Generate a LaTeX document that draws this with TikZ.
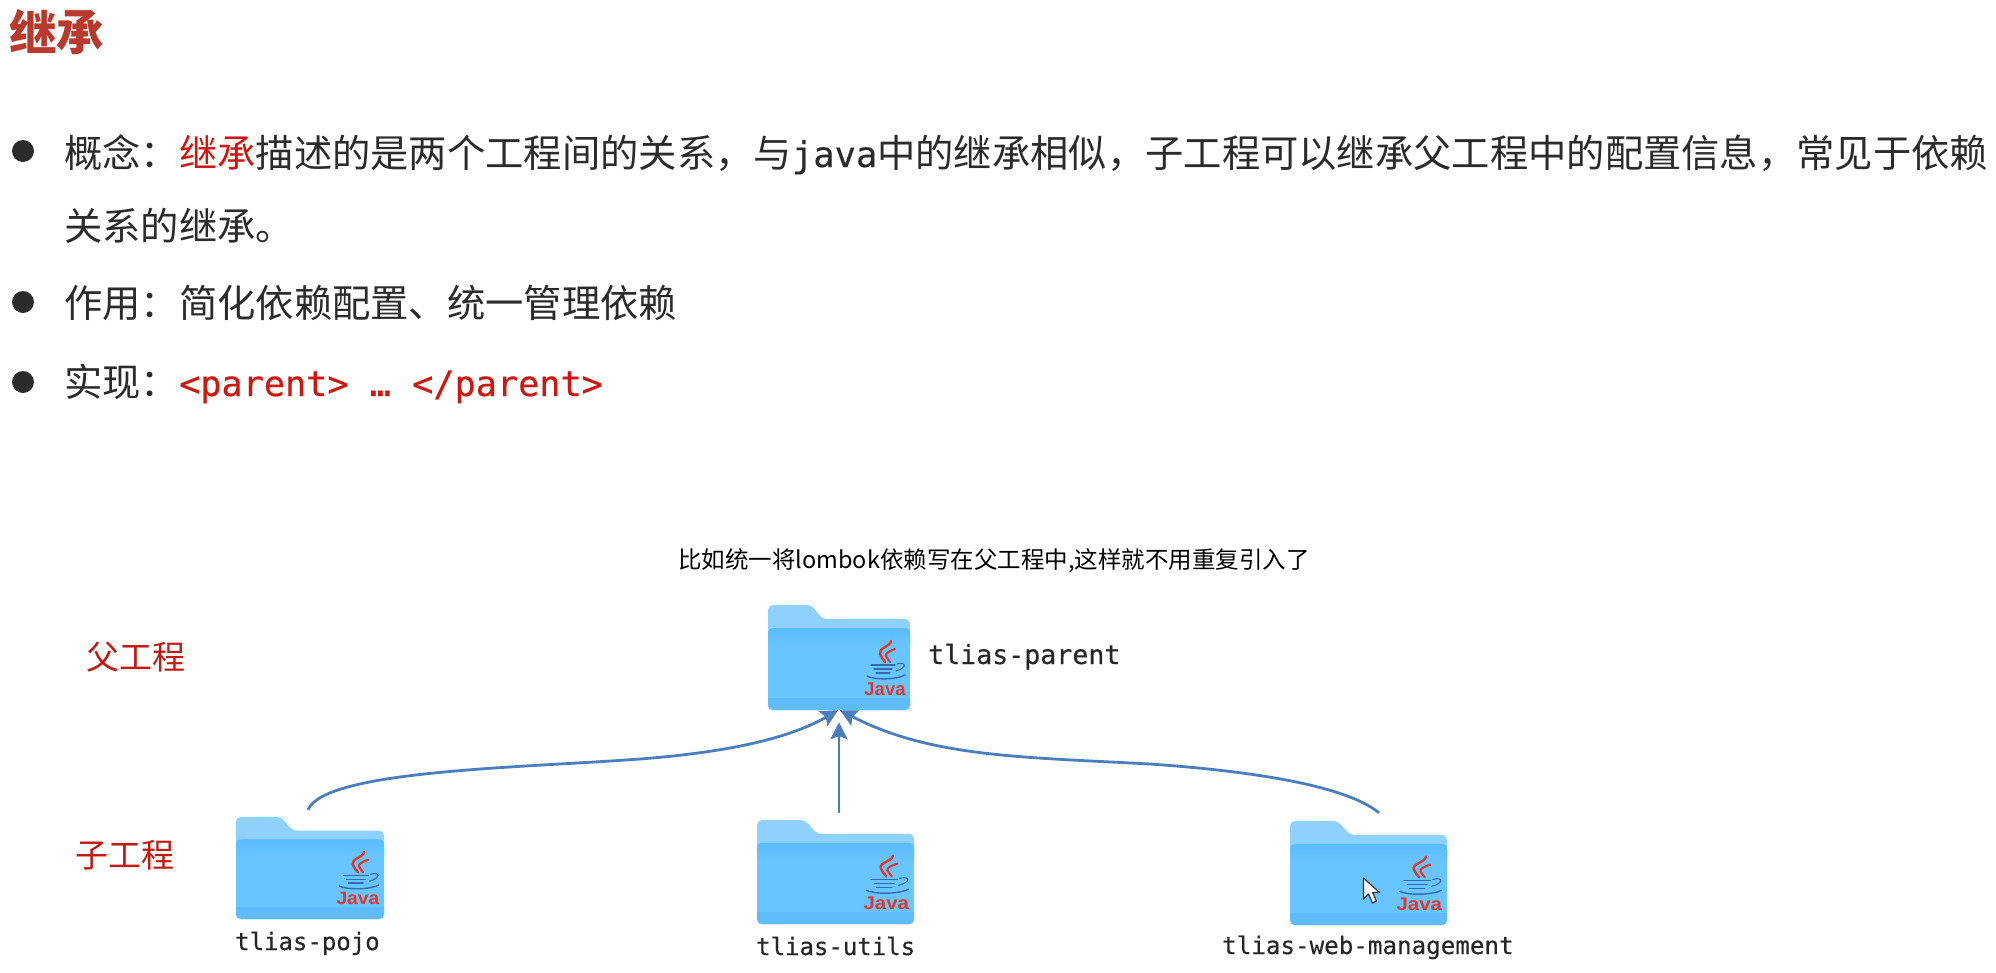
\documentclass[tikz,border=0pt]{standalone}
\usepackage{fontspec}
\setmainfont{Noto Sans CJK SC}
\newfontfamily\codefont[FakeBold=0.35]{DejaVu Sans Mono}
\newfontfamily\javafont{Liberation Sans}
\usetikzlibrary{arrows.meta}
\definecolor{titlered}{HTML}{B83A2C}
\definecolor{hotred}{HTML}{D0170F}
\definecolor{labelred}{HTML}{C21A12}
\definecolor{inktext}{HTML}{2B2B2B}
\definecolor{linkblue}{HTML}{4A7EBF}
\definecolor{backfold}{HTML}{8FD1FD}
\definecolor{frontfold}{HTML}{69C5FF}
\definecolor{topfold}{HTML}{5BBCFA}
\definecolor{lowfold}{HTML}{60BCF9}
\definecolor{flamered}{HTML}{E0392C}
\definecolor{cupblue}{HTML}{2F6CB0}
\newcommand\fs[1]{\fontsize{#1}{#1}\selectfont}
\newcommand\drawfolder[4]{%
\begin{scope}[shift={(#1,#2)},xscale=#3/142,yscale=#4/105]
 \fill[backfold] (0,6) .. controls (0,2) and (2,0) .. (6,0) -- (38,0) .. controls (43,0) and (45,2) .. (48,6)
   -- (52,11) .. controls (54,13) and (56,14) .. (60,14) -- (136,14) .. controls (140,14) and (142,16) .. (142,20)
   -- (142,40) -- (0,40) -- cycle;
 \fill[frontfold] (0,29) .. controls (0,25) and (2,23) .. (6,23) -- (136,23) .. controls (140,23) and (142,25) .. (142,29)
   -- (142,100) .. controls (142,103) and (140,105) .. (137,105) -- (5,105) .. controls (2,105) and (0,103) .. (0,100) -- cycle;
 \shade[top color=topfold,bottom color=frontfold] (0,29) .. controls (0,25) and (2,23) .. (6,23) -- (136,23) .. controls (140,23) and (142,25) .. (142,29) -- (142,42) -- (0,42) -- cycle;
 \fill[lowfold] (0,93) -- (142,93) -- (142,100) .. controls (142,103) and (140,105) .. (137,105) -- (5,105) .. controls (2,105) and (0,103) .. (0,100) -- cycle;
 % Java logo
 \draw[flamered,line width=2.4pt,line cap=round] (123,36) .. controls (122,42) and (110,43) .. (112,49) .. controls (113,52) and (115,54) .. (117,57);
 \draw[flamered,line width=2.1pt,line cap=round] (127,44) .. controls (122,46) and (117,48) .. (118,51) .. controls (119,53) and (120,54) .. (122,57);
 \draw[cupblue,line width=1.3pt,line cap=round] (103,60) -- (127,60) (106,64) -- (124,64) (108,68) -- (122,68);
 \draw[cupblue,line width=1.1pt,line cap=round] (129,59) .. controls (139,56) and (139,63) .. (128,66);
 \draw[cupblue,line width=1.4pt,line cap=round] (99,71) .. controls (106,75) and (128,75) .. (137,70);
 \node[inner sep=0pt,anchor=base,text=flamered,transform shape] at (117,90) {\javafont\bfseries\fs{18.5}Java};
\end{scope}}
\tikzset{
 txt/.style={inner sep=0pt,anchor=base west,text=inktext},
 bul/.style={circle,fill=inktext,inner sep=0pt,minimum size=22pt},
 folderbox/.style={inner sep=0pt,rectangle},
 code/.style={inner sep=0pt,anchor=base west,text=black!85},
 lnk/.style={draw=linkblue,line width=2.8pt,-{Stealth[length=17pt,width=17pt,inset=3pt]}},
}
\begin{document}
\begin{tikzpicture}[x=1pt,y=-1pt]
\useasboundingbox[fill=white] (0,0) rectangle (1996,972);
% title and bullet list
\node[txt,text=titlered] (title) at (9,50) {\fs{47.5}\bfseries 继承};
\node[bul] (b1) at (23,151) {};
\node[txt] (l1) at (64,167) {\fs{38.3}概念：\textcolor{hotred}{继承}描述的是两个工程间的关系，与{\codefont\fs{35.5}java}中的继承相似，子工程可以继承父工程中的配置信息，常见于依赖};
\node[txt] (l2) at (64,240) {\fs{38.3}关系的继承。};
\node[bul] (b2) at (23,302) {};
\node[txt] (l3) at (64,317) {\fs{38.3}作用：简化依赖配置、统一管理依赖};
\node[bul] (b3) at (23,382) {};
\node[txt] (l4) at (64,396) {\fs{38.3}实现：\textcolor{hotred}{\codefont\fs{35.2}<parent> … </parent>}};
\node[txt,text=black] (note) at (678,568) {\fs{23.5}比如统一将lombok依赖写在父工程中,这样就不用重复引入了};
\node[txt,text=labelred] (fa) at (86,669) {\fs{33}父工程};
\node[txt,text=labelred] (zi) at (75,867) {\fs{33}子工程};
% folders
\node[folderbox,minimum width=142pt,minimum height=105pt] (pf) at (839,657.5) {};
\drawfolder{768}{605}{142}{105}
\node[folderbox,minimum width=148pt,minimum height=102pt] (pojo) at (310,868) {};
\drawfolder{236}{817}{148}{102}
\node[folderbox,minimum width=157pt,minimum height=104pt] (utils) at (835.5,872) {};
\drawfolder{757}{820}{157}{104}
\node[folderbox,minimum width=157pt,minimum height=104pt] (web) at (1368.5,873) {};
\drawfolder{1290}{821}{157}{104}
% labels of folders
\node[code] (pfl) at (928,664) {\codefont\fs{26.6}tlias-parent};
\node[code] (pojol) at (235,950) {\codefont\fs{24}tlias-pojo};
\node[code] (utilsl) at (756,955) {\codefont\fs{24}tlias-utils};
\node[code] (webl) at (1222,954) {\codefont\fs{24.2}tlias-web-management};
% connectors
\coordinate (sL) at ([xshift=-2pt,yshift=7pt]pojo.north);
\coordinate (sM) at ([xshift=3.5pt,yshift=7pt]utils.north);
\coordinate (sR) at ([xshift=10.5pt,yshift=8pt]web.north);
\coordinate (tL) at ([xshift=-1pt,yshift=0pt]pf.south);
\coordinate (tM) at ([yshift=-12pt]pf.south);
\coordinate (tR) at ([xshift=1pt,yshift=0pt]pf.south);
\draw[lnk] (sL) .. controls (325,770) and (520,768) .. (640,759) .. controls (730,752) and (790,738) .. (tL);
\draw[lnk] (sM) -- (tM);
\draw[lnk] (sR) .. controls (1345,785) and (1250,771) .. (1150,764) .. controls (1020,757) and (930,757) .. (tR);
% mouse pointer
\draw[fill=white,draw=black!80,line width=1.2pt,line join=round] (1363.5,878) -- (1363.5,899) -- (1368.5,894) -- (1372.5,903) -- (1376.5,901) -- (1372.5,892.5) -- (1379.5,892.5) -- cycle;
\end{tikzpicture}
\end{document}
